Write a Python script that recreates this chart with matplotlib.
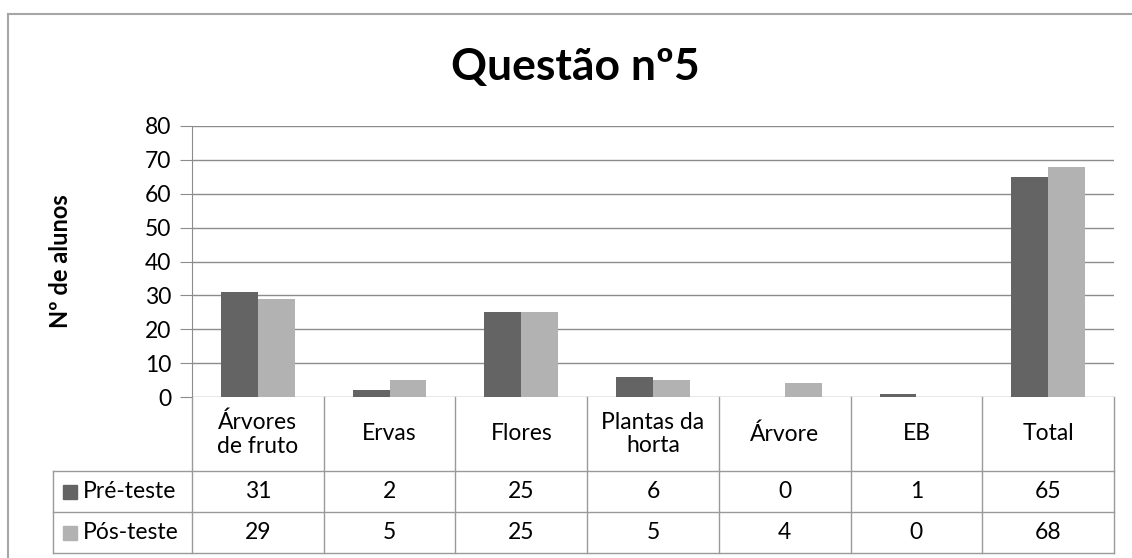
import matplotlib.pyplot as plt
from matplotlib.patches import Rectangle
from matplotlib.lines import Line2D

plt.rcParams['font.family'] = ['Lato', 'DejaVu Sans']

categories = ['Árvores\nde fruto', 'Ervas', 'Flores', 'Plantas da\nhorta', 'Árvore', 'EB', 'Total']
series = ['Pré-teste', 'Pós-teste']
pre = [31, 2, 25, 6, 0, 1, 65]
pos = [29, 5, 25, 5, 4, 0, 68]
colors = ['#646464', '#b2b2b2']

W, H = 1132, 558
fig = plt.figure(figsize=(W / 100, H / 100), dpi=100)


def fx(px):
    return px / W


def fy(py):
    return 1 - py / H


# plot area in pixels
left, right, top, bottom = 192, 1114, 126, 397
ax = fig.add_axes([fx(left), fy(bottom), fx(right - left), (bottom - top) / H])

x = list(range(len(categories)))
bw = 0.28
ax.bar([i - bw / 2 for i in x], pre, bw, color=colors[0], zorder=3)
ax.bar([i + bw / 2 for i in x], pos, bw, color=colors[1], zorder=3)

ax.set_xlim(-0.5, len(categories) - 0.5)
ax.set_ylim(0, 80)
ax.set_yticks(range(0, 81, 10))
ax.yaxis.grid(True, color='#8c8c8c', linewidth=1)
ax.set_axisbelow(True)
ax.tick_params(axis='y', length=9, color='#8c8c8c', labelsize=16.5, pad=6)
ax.tick_params(axis='x', length=0, labelbottom=False)
for s in ['top', 'right', 'bottom']:
    ax.spines[s].set_visible(False)
ax.spines['left'].set_color('#8c8c8c')
fig.text(fx(60), fy(261), 'Nº de alunos', rotation=90, ha='center', va='center',
         fontsize=17, fontweight='bold')

fig.text(fx(575), fy(80), 'Questão nº5', ha='center', va='baseline',
         fontsize=32, fontweight='bold')

# data table below the plot
line_c = '#9a9a9a'
col_w = (right - left) / len(categories)
rows_y = [bottom, 471, 512, 553]
tab_left = 53
tfs = 16.5


def hline(x0, x1, y):
    fig.add_artist(Line2D([fx(x0), fx(x1)], [fy(y), fy(y)], color=line_c, lw=1))


def vline(xp, y0, y1):
    fig.add_artist(Line2D([fx(xp), fx(xp)], [fy(y0), fy(y1)], color=line_c, lw=1))


hline(tab_left, right, rows_y[1])
hline(tab_left, right, rows_y[2])
hline(tab_left, right, rows_y[3])
for i in range(len(categories) + 1):
    vline(left + i * col_w, rows_y[0], rows_y[3])
vline(tab_left, rows_y[1], rows_y[3])

for i, c in enumerate(categories):
    cx = left + (i + 0.5) * col_w
    fig.text(fx(cx), fy((rows_y[0] + rows_y[1]) / 2), c, ha='center', va='center',
             fontsize=tfs, linespacing=1.15)
    for r, vals in enumerate([pre, pos]):
        fig.text(fx(cx), fy((rows_y[r + 1] + rows_y[r + 2]) / 2), str(vals[i]),
                 ha='center', va='center', fontsize=tfs)

for r, name in enumerate(series):
    cy = (rows_y[r + 1] + rows_y[r + 2]) / 2
    fig.add_artist(Rectangle((fx(63), fy(cy + 7)), fx(14), 14 / H, color=colors[r]))
    fig.text(fx(83), fy(cy), name, ha='left', va='center', fontsize=tfs)

# outer chart frame (only top and left edges fall inside the image)
fig.add_artist(Line2D([fx(8), 1], [fy(14), fy(14)], color='#a6a6a6', lw=1.5))
fig.add_artist(Line2D([fx(8), fx(8)], [fy(14), 0], color='#a6a6a6', lw=1.5))

fig.savefig('out.png', dpi=100)
